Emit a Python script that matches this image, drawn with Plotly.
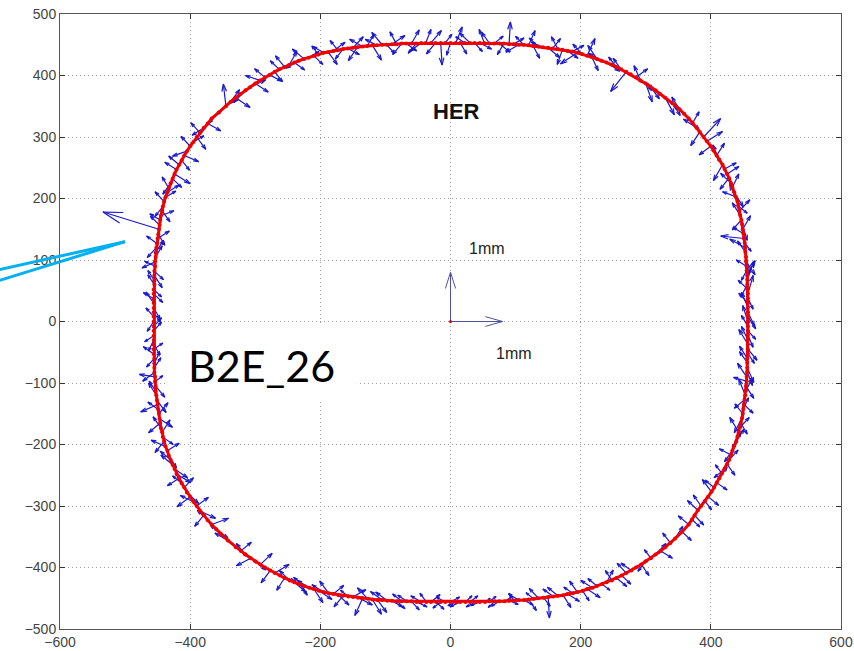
import numpy as np
import plotly.graph_objects as go

# Magnet positions around the ring (x, y), one list per quadrant, counter-clockwise.
# "_m" lists hold the magnets lying between consecutive entries of the main lists.
q1_x = [457, 457, 457, 457, 456, 456, 455, 454, 453, 451, 449, 447, 444, 441, 436, 431, 425, 418, 409, 400, 389, 378, 366, 352,
        330, 315, 300, 285, 270, 255, 240, 225, 210, 195, 180, 165, 150, 135, 120, 105, 90, 75, 60, 45, 30, 15]
q1_y = [0, 15, 30, 45, 60, 75, 90, 105, 120, 135, 150, 165, 180, 195, 210, 225, 240, 255, 270, 285, 300, 315, 330, 345,
        364, 376, 387, 397, 406, 414, 421, 427, 432, 437, 440, 443, 445, 447, 449, 450, 451, 452, 452, 453, 453, 453]
q1m_x = [457, 457, 457, 456, 456, 455, 454, 453, 452, 450, 448, 445, 442, 438, 433, 428, 421, 413, 404, 394, 383, 372, 359, 341,
         322, 307, 292, 277, 262, 247, 232, 217, 202, 187, 172, 157, 142, 127, 112, 97, 82, 67, 52, 37, 22, 8]
q1m_y = [8, 23, 38, 53, 68, 83, 98, 113, 128, 143, 158, 173, 188, 203, 218, 233, 248, 263, 278, 293, 308, 323, 338, 355,
         370, 382, 392, 402, 410, 418, 424, 430, 435, 439, 442, 444, 446, 448, 450, 451, 452, 452, 453, 453, 453, 453]

q2_x = [0, -15, -30, -45, -60, -75, -90, -105, -120, -135, -150, -165, -180, -195, -210, -225, -240, -255, -270, -285, -300, -315, -330, -345,
        -367, -379, -390, -400, -409, -417, -424, -430, -435, -440, -443, -446, -448, -450, -452, -453, -454, -455, -455, -456, -456, -456]
q2_y = [453, 453, 453, 453, 452, 452, 451, 450, 449, 447, 445, 443, 440, 437, 432, 427, 421, 414, 406, 397, 387, 376, 364, 350,
        330, 315, 300, 285, 270, 255, 240, 225, 210, 195, 180, 165, 150, 135, 120, 105, 90, 75, 60, 45, 30, 15]
q2m_x = [-8, -23, -38, -53, -68, -83, -98, -113, -128, -143, -158, -173, -188, -203, -218, -233, -248, -263, -278, -293, -308, -323, -338, -356,
         -373, -385, -395, -405, -413, -421, -427, -433, -438, -442, -445, -447, -449, -451, -453, -454, -455, -455, -456, -456, -456, -456]
q2m_y = [453, 453, 453, 452, 452, 451, 450, 449, 448, 446, 444, 441, 438, 434, 429, 424, 417, 410, 401, 392, 381, 370, 357, 340,
         322, 307, 292, 277, 262, 247, 232, 217, 202, 187, 172, 157, 142, 127, 112, 97, 82, 67, 52, 37, 22, 8]

q3_x = [-456, -456, -456, -456, -455, -455, -454, -453, -452, -450, -448, -446, -443, -440, -435, -430, -424, -417, -409, -400, -390, -379, -367, -353,
        -330, -315, -300, -285, -270, -255, -240, -225, -210, -195, -180, -165, -150, -135, -120, -105, -90, -75, -60, -45, -30, -15]
q3_y = [0, -15, -30, -45, -60, -75, -90, -105, -120, -135, -150, -165, -180, -195, -210, -225, -240, -255, -270, -285, -300, -315, -330, -345,
        -367, -379, -390, -400, -409, -417, -424, -430, -435, -440, -443, -446, -448, -450, -452, -453, -454, -455, -455, -456, -456, -456]
q3m_x = [-456, -456, -456, -456, -455, -455, -454, -453, -451, -449, -447, -445, -442, -438, -433, -427, -421, -413, -405, -395, -385, -373, -360, -342,
         -322, -307, -292, -277, -262, -247, -232, -217, -202, -187, -172, -157, -142, -127, -112, -97, -82, -67, -52, -37, -22, -8]
q3m_y = [-8, -23, -38, -53, -68, -83, -98, -113, -128, -143, -158, -173, -188, -203, -218, -233, -248, -263, -278, -293, -308, -323, -338, -356,
         -373, -385, -395, -405, -413, -421, -427, -433, -438, -442, -445, -447, -449, -451, -453, -454, -455, -455, -456, -456, -456, -456]

q4_x = [0, 15, 30, 45, 60, 75, 90, 105, 120, 135, 150, 165, 180, 195, 210, 225, 240, 255, 270, 285, 300, 315, 330, 345,
        366, 375, 385, 396, 405, 413, 421, 428, 433, 439, 443, 446, 449, 451, 453, 454, 455, 456, 456, 457, 457, 457]
q4_y = [-456, -456, -456, -456, -455, -455, -454, -453, -452, -450, -448, -446, -443, -440, -435, -430, -424, -417, -409, -400, -390, -379, -367, -353,
        -330, -315, -300, -285, -270, -255, -240, -225, -210, -195, -180, -165, -150, -135, -120, -105, -90, -75, -60, -45, -30, -15]
q4m_x = [8, 23, 38, 53, 68, 83, 98, 113, 128, 143, 158, 173, 188, 203, 218, 233, 248, 263, 278, 293, 308, 323, 338, 356,
         371, 380, 391, 401, 409, 417, 425, 431, 436, 441, 445, 448, 450, 452, 454, 455, 456, 456, 457, 457, 457, 457]
q4m_y = [-456, -456, -456, -456, -455, -455, -454, -453, -451, -449, -447, -445, -442, -438, -433, -427, -421, -413, -405, -395, -385, -373, -360, -342,
         -322, -307, -292, -277, -262, -247, -232, -217, -202, -187, -172, -157, -142, -127, -112, -97, -82, -67, -52, -37, -22, -8]

# Measured displacement of each magnet (plot units, 80 units = 1 mm)
q1_dx = [-8, 10, -14, 8, -10, 12, -16, 6, -24, -36, 12, -14, 16, -12, 14, -16, 18, -14, 12, -18, 26, -20, 16, -12,
         14, -16, 10, 18, -24, -12, 20, -14, 12, -26, 16, -10, 18, -14, 10, -20, 2, 16, -12, 18, -16, 10]
q1_dy = [26, -22, 16, 30, -20, 24, 10, -26, 14, 4, 22, -16, 18, 28, -24, 16, 12, -26, 20, -14, 30, 14, -18, 20,
         -28, 12, -30, 14, -32, 16, -14, 22, 28, -18, -12, 20, -16, 14, 24, -12, 36, -14, 18, -10, 16, -18]
q1m_dx = [12, -10, 8, -14, 10, -8, 14, -12, 10, -16, 8, -12, 14, -20, 10, -14, 18, -10, 12, 24, -14, 10, -16, 12,
          -18, 14, -10, 20, -12, 16, -20, 10, -14, 18, -8, 12, -18, 10, -12, 16, -10, 14, -8, 12, -14, 10]
q1m_dy = [-20, 24, -18, 14, 30, -16, -22, 18, -14, 10, -26, 20, -12, 8, 22, -18, 10, 24, -20, 16, -22, 18, 12, -20,
          10, -20, 24, -14, 18, -10, 12, -22, 16, 10, -24, 16, 8, -20, 14, 10, -18, 12, 22, -14, 10, 26]

q2_dx = [-6, 2, 16, -18, 12, -14, 20, -16, 14, -20, 16, -12, 18, -16, 14, -18, 16, -14, 12, -16, 20, -18, 22, -4,
         16, -18, 14, -14, 22, -16, 24, -12, 18, -14, 12, -16, -86, 18, -14, 10, -16, 12, -10, 14, -12, 10]
q2_dy = [-20, -36, 20, -14, 22, -18, 14, 20, -24, 12, 18, -16, 14, 10, -14, 16, -12, 18, -16, 14, -14, -20, -16, 36,
         14, -12, -20, 16, -10, 14, -16, -18, 12, 16, -18, 10, 28, 12, -16, 18, 8, -20, 16, -14, 18, -16]
q2m_dx = [10, -14, 8, -12, 16, -10, 12, -18, 10, -14, 18, -12, 14, -10, 16, -20, 12, -14, 18, -22, 24, -12, 14, -16,
          20, -14, 16, -22, 12, -18, 14, -10, 16, -12, 20, -14, 10, -16, 12, -20, 14, -10, 12, -16, 10, -12]
q2m_dy = [14, -18, 22, -16, -12, 20, -14, 10, 18, -22, -10, 16, -20, 14, 10, -12, 22, 14, -10, 8, 12, -14, 20, -18,
          -12, 16, 10, -8, -16, 12, -14, 18, 10, -16, 8, 14, -18, 12, 20, -10, -14, 16, -12, 10, -18, 14]

q3_dx = [-10, 12, -8, 14, -12, 10, -24, 14, -12, -26, 14, -18, 12, -14, 18, -16, 20, -18, 14, -20, 18, -14, 26, -16,
         20, -14, 16, -18, 22, -12, 18, -16, 14, -18, 16, -14, 20, -12, 14, -18, 16, -14, 12, -16, 14, -12]
q3_dy = [-16, 14, -18, 10, -14, 16, 4, -18, 20, -12, 18, -16, 20, -18, 12, 14, -14, -12, 16, -16, 14, -18, 10, 14,
         -16, 18, -14, 12, 14, -20, -16, 14, -22, 12, 14, -18, 12, -28, -24, 14, -10, 12, -14, 10, 12, -10]
q3m_dx = [12, -14, 10, -16, 8, -18, 12, -10, 14, -16, 20, -12, 16, -22, 12, -18, 22, -14, 18, -20, 24, -16, 18, -20,
          16, -22, 18, -14, 24, -16, 12, -18, 20, -14, 16, -12, 22, -16, 14, -18, 12, -14, 16, -10, 12, -14]
q3m_dy = [14, -10, -16, 12, 18, -14, 10, 16, -20, 12, -14, 18, -12, 10, -20, 16, -14, 12, -18, 10, -12, 16, -14, 12,
          14, -12, 18, -20, -10, 16, -18, 12, -14, 20, -16, 10, -12, 18, -20, 14, -12, 10, -8, 14, -12, 8]

q4_dx = [14, -16, 12, -14, 10, -12, 14, -16, 12, -14, 2, -16, 18, -12, 20, -14, 10, 16, -14, 18, -12, 16, -14, 12,
         -16, 14, -12, 16, -14, 12, -16, 14, -12, 12, -14, 10, -12, 14, -10, 12, -14, 10, -12, 14, -10, 12]
q4_dy = [8, -8, 10, -6, 8, -8, -6, 10, -18, 16, -34, 14, -12, 18, -14, 12, 20, -14, 16, 12, -16, 18, -12, 20,
         14, -16, 18, -14, 12, 18, -14, 16, -18, 20, 24, -18, 16, -14, 26, -20, 22, -24, 20, -18, 22, -14]
q4m_dx = [-12, 10, -14, 8, -10, 12, -8, 14, -12, 10, -16, 12, -14, 10, -18, 12, -10, 14, -16, 12, -10, 18, -12, 14,
          12, -16, 10, -14, 16, -10, 12, -18, 10, -8, 14, -12, 8, -16, 10, -20, 8, -12, 10, -14, 8, -10]
q4m_dy = [-6, 10, -8, 6, -10, 8, 12, -8, 10, -14, 12, -20, 10, -16, 12, -10, 16, -14, 12, -18, 14, -12, 16, -14,
          -12, 16, -14, 20, -12, 14, -18, 10, 22, -20, 16, -24, 18, -14, 20, 6, -22, 18, -16, 24, -20, 18]

# Reference scale vectors (1 mm each)
scale_dx = [0, 80]
scale_dy = [80, 0]


def interleave(a, b):
    out = []
    for p, q in zip(a, b):
        out += [p, q]
    return out


ring_x = np.array(interleave(q1_x, q1m_x) + interleave(q2_x, q2m_x)
                  + interleave(q3_x, q3m_x) + interleave(q4_x, q4m_x), dtype=float)
ring_y = np.array(interleave(q1_y, q1m_y) + interleave(q2_y, q2m_y)
                  + interleave(q3_y, q3m_y) + interleave(q4_y, q4m_y), dtype=float)
disp_dx = np.array(interleave(q1_dx, q1m_dx) + interleave(q2_dx, q2m_dx)
                   + interleave(q3_dx, q3m_dx) + interleave(q4_dx, q4m_dx), dtype=float)
disp_dy = np.array(interleave(q1_dy, q1m_dy) + interleave(q2_dy, q2m_dy)
                   + interleave(q3_dy, q3m_dy) + interleave(q4_dy, q4m_dy), dtype=float)

HEAD_LEN = 0.33   # arrow head length relative to the vector
HEAD_WID = 0.30   # arrow head half-width relative to the head length


def quiver_segments(x0, y0, u, v):
    xs, ys = [], []
    for xi, yi, ui, vi in zip(x0, y0, u, v):
        tx, ty = xi + ui, yi + vi
        xs += [xi, tx, None,
               tx - HEAD_LEN * (ui + HEAD_WID * vi), tx, tx - HEAD_LEN * (ui - HEAD_WID * vi), None]
        ys += [yi, ty, None,
               ty - HEAD_LEN * (vi - HEAD_WID * ui), ty, ty - HEAD_LEN * (vi + HEAD_WID * ui), None]
    return xs, ys


fig = go.Figure()

ax, ay = quiver_segments(ring_x, ring_y, disp_dx, disp_dy)
fig.add_trace(go.Scatter(x=ax, y=ay, mode="lines",
                         line=dict(color="rgb(25,25,205)", width=1.2),
                         hoverinfo="skip"))

# Ring orbit, closed
fig.add_trace(go.Scatter(x=list(ring_x) + [ring_x[0]], y=list(ring_y) + [ring_y[0]],
                         mode="lines+markers",
                         line=dict(color="rgb(240,0,0)", width=3),
                         marker=dict(color="rgb(240,0,0)", size=4)))

# Scale arrows at the origin
sx, sy = quiver_segments([0, 0], [0, 0], scale_dx, scale_dy)
fig.add_trace(go.Scatter(x=sx, y=sy, mode="lines",
                         line=dict(color="rgb(80,80,160)", width=1), hoverinfo="skip"))
fig.add_trace(go.Scatter(x=[0], y=[0], mode="markers",
                         marker=dict(color="rgb(220,0,0)", size=3)))

tick_font = dict(family="Liberation Sans, Arial, sans-serif", size=14, color="#444")
axis_common = dict(showgrid=True, gridcolor="rgb(160,160,160)", griddash="1px,3px", gridwidth=1,
                   zeroline=False, showline=True, linecolor="#555", linewidth=1, mirror="ticks",
                   ticks="inside", ticklen=5, tickcolor="#333", tickfont=tick_font, automargin=False)

fig.update_xaxes(range=[-600, 600], tickvals=[-600, -400, -200, 0, 200, 400, 600], **axis_common)
fig.update_yaxes(range=[-500, 500], tickvals=list(range(-500, 501, 100)), **axis_common)

fig.add_annotation(x=9, y=341, text="<b>HER</b>", showarrow=False,
                   font=dict(family="Liberation Sans, Arial, sans-serif", size=22, color="#111"))
fig.add_annotation(x=56, y=118, text="1mm", showarrow=False,
                   font=dict(family="Liberation Sans, Arial, sans-serif", size=16, color="#222"))
fig.add_annotation(x=97, y=-52, text="1mm", showarrow=False,
                   font=dict(family="Liberation Sans, Arial, sans-serif", size=16, color="#222"))
fig.add_annotation(x=-290, y=-72, text="B2E_26", showarrow=False,
                   font=dict(family="Lato, sans-serif", size=43, color="black"))

shapes = [
    # label backdrop over the grid
    dict(type="rect", xref="x", yref="y", x0=-435, x1=-144, y0=-131, y1=-6,
         fillcolor="white", line=dict(width=0), layer="between"),
    # callout pointer
    dict(type="line", xref="paper", yref="paper", x0=-0.08, y0=0.5837, x1=0.0832, y1=0.6298,
         line=dict(color="rgb(0,176,240)", width=3)),
    dict(type="line", xref="paper", yref="paper", x0=-0.08, y0=0.5659, x1=0.0832, y1=0.6298,
         line=dict(color="rgb(0,176,240)", width=3)),
]
fig.update_layout(width=854, height=651, margin=dict(l=60, r=13, t=14, b=22),
                  paper_bgcolor="white", plot_bgcolor="white", showlegend=False,
                  shapes=shapes)

fig.write_html("out.html")
